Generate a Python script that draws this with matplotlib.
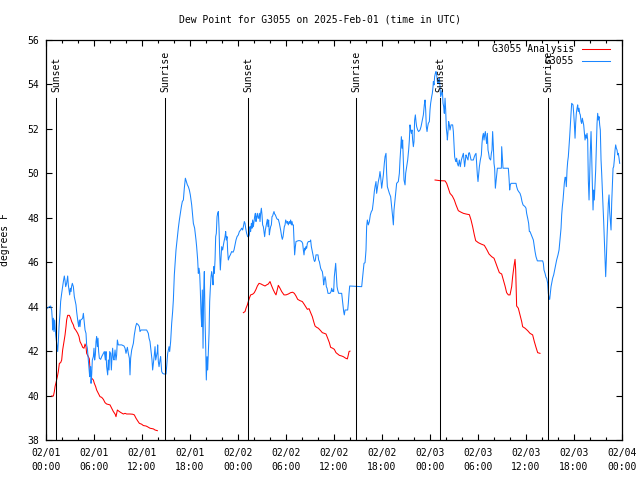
from datetime import datetime, timedelta

import matplotlib
matplotlib.use("Agg")
import matplotlib.pyplot as plt
import matplotlib.dates as mdates

TITLE = "Dew Point for G3055 on 2025-Feb-01 (time in UTC)"
START = datetime(2025, 2, 1)

# hours after 02/01 00:00 UTC
sunset_hours = [1.27, 25.29, 49.3]
sunrise_hours = [14.9, 38.8, 62.8]

# G3055 Analysis (hour, degF), three runs
analysis_1 = [
    (0.71, 39.98), (0.92, 39.98), (1.04, 40.17), (1.13, 40.40), (1.25, 40.58), (1.42, 40.85),
    (1.54, 41.08), (1.67, 41.45), (1.83, 41.48), (1.96, 41.6), (2.08, 42.05), (2.25, 42.43),
    (2.38, 42.73), (2.5, 43.1), (2.58, 43.4), (2.71, 43.61), (2.92, 43.61), (3.08, 43.48),
    (3.21, 43.33), (3.42, 43.18), (3.54, 43.03), (3.71, 42.95), (3.83, 42.88), (3.96, 42.8),
    (4.13, 42.65), (4.25, 42.43), (4.46, 42.28), (4.58, 42.17), (4.75, 42.13), (4.88, 42.32),
    (5.0, 42.2), (5.08, 41.9), (5.29, 41.75), (5.42, 41.65), (5.5, 41.15), (5.71, 40.78),
    (5.92, 40.7), (6.04, 40.55), (6.21, 40.4), (6.33, 40.25), (6.54, 40.1), (6.75, 39.95),
    (6.96, 39.92), (7.17, 39.83), (7.38, 39.68), (7.58, 39.62), (7.79, 39.6), (8.0, 39.58),
    (8.21, 39.43), (8.42, 39.28), (8.63, 39.17), (8.75, 39.05), (8.92, 39.35), (9.17, 39.28),
    (9.38, 39.23), (9.67, 39.17), (9.88, 39.2), (10.08, 39.17), (10.5, 39.17), (10.83, 39.16),
    (11.04, 39.13), (11.25, 38.98), (11.46, 38.86), (11.67, 38.75), (11.96, 38.71), (12.17, 38.65),
    (12.5, 38.63), (12.67, 38.6), (13.0, 38.53), (13.42, 38.5), (13.63, 38.45), (13.92, 38.42),
]
analysis_2 = [
    (24.67, 43.73), (24.88, 43.78), (25.0, 43.93), (25.17, 44.08), (25.29, 44.23), (25.42, 44.38),
    (25.58, 44.53), (25.83, 44.56), (26.04, 44.63), (26.25, 44.78), (26.42, 44.93), (26.63, 45.05),
    (26.88, 45.02), (27.08, 44.98), (27.38, 44.93), (27.58, 44.98), (27.79, 45.02), (28.0, 45.13),
    (28.21, 44.93), (28.42, 44.75), (28.63, 44.6), (28.75, 44.53), (28.92, 44.78), (29.04, 44.96),
    (29.25, 44.83), (29.46, 44.68), (29.75, 44.53), (30.0, 44.53), (30.29, 44.57), (30.58, 44.63),
    (30.83, 44.65), (31.04, 44.6), (31.25, 44.48), (31.46, 44.33), (31.75, 44.27), (32.04, 44.23),
    (32.25, 44.12), (32.46, 44.0), (32.67, 43.88), (32.88, 43.91), (33.08, 43.73), (33.29, 43.55),
    (33.5, 43.28), (33.63, 43.13), (33.83, 43.07), (34.04, 43.03), (34.33, 42.92), (34.54, 42.83),
    (34.79, 42.8), (35.0, 42.77), (35.21, 42.58), (35.42, 42.38), (35.58, 42.17), (35.83, 42.13),
    (36.04, 42.08), (36.25, 41.93), (36.46, 41.87), (36.67, 41.81), (36.96, 41.78), (37.17, 41.75),
    (37.46, 41.68), (37.67, 41.65), (37.79, 41.83), (37.88, 41.98), (38.0, 42.0),
]
analysis_3 = [
    (48.63, 49.7), (49.25, 49.67), (49.88, 49.66), (50.08, 49.55), (50.29, 49.33), (50.5, 49.1),
    (50.79, 48.98), (51.04, 48.8), (51.25, 48.58), (51.54, 48.32), (51.83, 48.26), (52.17, 48.2),
    (52.5, 48.17), (52.92, 48.14), (53.13, 47.9), (53.33, 47.6), (53.54, 47.23), (53.71, 46.97),
    (54.04, 46.88), (54.38, 46.82), (54.79, 46.76), (55.08, 46.58), (55.38, 46.37), (55.71, 46.25),
    (56.0, 46.18), (56.21, 45.98), (56.46, 45.73), (56.67, 45.53), (56.96, 45.47), (57.17, 45.2),
    (57.38, 44.93), (57.58, 44.63), (57.79, 44.53), (58.0, 44.53), (58.21, 44.9), (58.33, 45.35),
    (58.5, 45.83), (58.63, 46.13), (58.71, 45.65), (58.83, 44.03), (59.04, 43.93), (59.25, 43.63),
    (59.46, 43.33), (59.58, 43.1), (59.88, 43.03), (60.21, 42.92), (60.5, 42.8), (60.83, 42.73),
    (61.04, 42.43), (61.25, 42.17), (61.46, 41.93), (61.75, 41.9),
]

# G3055 observations (hour, degF)
obs_day1 = [
    (0.0, 43.95), (0.17, 43.93), (0.42, 44.0), (0.58, 44.03), (0.71, 43.85), (0.79, 43.4), (0.83, 42.95),
    (0.92, 43.48), (1.0, 42.88), (1.08, 43.4), (1.21, 42.73), (1.33, 42.35), (1.46, 41.98), (1.54, 42.43),
    (1.63, 43.1), (1.75, 43.7), (1.83, 44.23), (1.96, 44.6), (2.08, 44.9), (2.17, 45.13), (2.29, 45.38),
    (2.38, 45.17), (2.46, 44.9), (2.58, 45.05), (2.71, 45.38), (2.79, 44.98), (2.88, 44.75), (2.96, 44.53),
    (3.04, 44.83), (3.13, 44.68), (3.21, 44.93), (3.29, 45.05), (3.42, 44.9), (3.54, 44.45), (3.67, 44.23),
    (3.75, 44.08), (3.83, 43.78), (3.96, 43.4), (4.08, 43.1), (4.17, 43.4), (4.25, 43.1), (4.33, 43.4),
    (4.46, 43.43), (4.58, 43.48), (4.67, 43.7), (4.79, 43.25), (4.88, 42.95), (5.0, 42.8), (5.08, 42.28),
    (5.17, 42.13), (5.29, 41.6), (5.38, 41.15), (5.46, 40.85), (5.5, 41.08), (5.58, 41.3), (5.63, 40.55),
    (5.71, 40.93), (5.79, 41.6), (5.92, 41.75), (6.0, 42.13), (6.08, 41.6), (6.17, 41.83), (6.25, 42.43),
    (6.33, 42.65), (6.42, 42.2), (6.5, 42.58), (6.58, 41.98), (6.67, 41.68), (6.83, 41.63), (6.96, 41.75),
    (7.17, 41.9), (7.29, 41.98), (7.42, 41.6), (7.5, 41.98), (7.58, 41.3), (7.71, 40.93), (7.79, 41.6),
    (7.88, 41.15), (7.96, 41.98), (8.08, 41.9), (8.17, 41.15), (8.25, 41.75), (8.33, 42.13), (8.42, 41.68),
    (8.5, 41.6), (8.63, 42.05), (8.75, 41.6), (8.83, 41.83), (8.92, 42.5), (9.04, 42.28), (9.46, 42.28),
    (9.75, 42.23), (9.88, 42.13), (10.0, 41.9), (10.17, 42.17), (10.29, 41.9), (10.42, 41.68), (10.5, 40.93),
    (10.58, 41.68), (10.71, 42.05), (10.92, 42.35), (11.04, 42.73), (11.21, 43.1), (11.33, 43.25),
    (11.54, 43.18), (11.67, 43.1), (11.75, 42.88), (11.88, 42.95), (12.17, 42.95), (12.58, 42.95),
    (12.79, 42.8), (12.88, 42.58), (13.0, 42.43), (13.13, 41.98), (13.25, 41.6), (13.33, 41.15),
    (13.42, 41.45), (13.54, 41.83), (13.63, 42.2), (13.71, 41.6), (13.79, 41.75), (13.92, 41.98),
    (13.96, 42.28), (14.04, 41.53), (14.13, 41.3), (14.25, 41.6), (14.33, 41.75), (14.46, 41.08),
    (14.58, 41.0), (14.75, 40.97), (15.0, 40.97), (15.08, 41.3), (15.21, 41.9), (15.38, 42.2),
    (15.46, 41.98), (15.58, 42.43), (15.71, 43.25), (15.83, 43.78), (15.92, 44.3), (16.04, 45.43),
    (16.17, 46.1), (16.25, 46.55), (16.38, 47.0), (16.54, 47.53), (16.67, 47.9), (16.79, 48.2),
    (16.92, 48.5), (17.04, 48.73), (17.17, 48.8), (17.29, 49.33), (17.42, 49.78), (17.54, 49.63),
    (17.67, 49.48), (17.79, 49.4), (17.92, 49.25), (18.04, 49.03), (18.21, 48.58), (18.33, 48.13),
    (18.42, 47.75), (18.58, 47.53), (18.75, 47.0), (18.83, 46.7), (18.96, 46.1), (19.04, 45.5),
    (19.13, 45.73), (19.21, 45.5), (19.29, 44.75), (19.38, 43.7), (19.46, 43.1), (19.54, 44.75),
    (19.63, 42.13), (19.71, 44.68), (19.79, 45.58), (19.88, 43.4), (19.96, 42.2), (20.04, 40.7),
    (20.13, 41.75), (20.21, 41.15), (20.29, 41.9), (20.38, 42.8), (20.46, 44.23), (20.54, 44.83),
    (20.63, 45.35), (20.71, 45.58), (20.79, 45.35), (20.88, 44.98), (20.96, 45.8), (21.04, 45.5),
    (21.13, 46.1), (21.21, 47.15), (21.29, 47.3), (21.38, 48.05), (21.46, 48.2), (21.54, 48.28),
    (21.63, 47.53), (21.71, 46.4), (21.79, 45.65), (21.88, 46.18), (21.96, 46.7), (22.08, 46.55),
    (22.21, 46.85), (22.29, 47.0), (22.38, 47.15), (22.46, 47.38), (22.54, 47.0), (22.63, 47.15),
    (22.71, 46.48), (22.79, 46.1), (22.92, 46.25), (23.04, 46.33), (23.21, 46.48), (23.38, 46.45),
    (23.5, 46.55), (23.63, 46.78), (23.75, 47.0), (23.88, 47.15),
]
obs_day2 = [
    (24.04, 47.23), (24.17, 47.38), (24.33, 47.45), (24.46, 47.53), (24.58, 47.45), (24.67, 47.6),
    (24.79, 47.83), (24.88, 47.75), (24.96, 47.53), (25.08, 47.3), (25.21, 47.15), (25.33, 47.15),
    (25.42, 47.23), (25.5, 47.6), (25.58, 47.38), (25.67, 47.75), (25.75, 47.53), (25.83, 47.9),
    (25.92, 47.6), (26.0, 47.83), (26.08, 48.05), (26.17, 48.2), (26.25, 47.83), (26.33, 48.05),
    (26.42, 48.2), (26.5, 47.98), (26.58, 47.98), (26.67, 48.2), (26.75, 47.83), (26.83, 48.2),
    (26.92, 48.43), (27.0, 48.13), (27.08, 47.68), (27.17, 47.6), (27.25, 47.38), (27.33, 47.15),
    (27.42, 47.45), (27.5, 47.6), (27.58, 47.75), (27.67, 47.93), (27.75, 47.6), (27.83, 47.9),
    (27.92, 47.23), (28.0, 47.45), (28.08, 47.6), (28.17, 47.68), (28.25, 48.05), (28.33, 48.08),
    (28.42, 48.2), (28.5, 48.28), (28.58, 48.17), (28.67, 48.13), (28.83, 47.98), (28.92, 47.93),
    (29.04, 47.93), (29.17, 47.75), (29.25, 47.6), (29.33, 47.45), (29.46, 47.15), (29.54, 47.03),
    (29.63, 47.15), (29.71, 47.38), (29.79, 47.6), (29.88, 47.68), (29.96, 47.9), (30.04, 47.83),
    (30.13, 47.75), (30.21, 47.83), (30.29, 47.68), (30.42, 47.83), (30.5, 47.75), (30.58, 47.9),
    (30.67, 47.68), (30.75, 47.83), (30.83, 47.68), (30.92, 47.68), (31.0, 47.0), (31.08, 46.33),
    (31.17, 46.7), (31.25, 46.93), (31.54, 46.97), (31.75, 46.97), (31.96, 46.93), (32.08, 46.85),
    (32.17, 46.55), (32.25, 46.33), (32.33, 46.63), (32.42, 46.55), (32.5, 46.7), (32.58, 46.63),
    (32.67, 46.85), (32.79, 46.93), (33.0, 46.93), (33.08, 47.0), (33.17, 46.7), (33.25, 46.55),
    (33.33, 46.4), (33.42, 46.25), (33.5, 46.1), (33.58, 46.03), (33.67, 46.1), (33.75, 46.33),
    (34.0, 46.33), (34.08, 46.1), (34.17, 46.03), (34.25, 45.88), (34.33, 45.73), (34.42, 45.65),
    (34.54, 45.58), (34.63, 45.35), (34.71, 44.98), (34.79, 45.2), (34.88, 45.35), (34.96, 45.2),
    (35.04, 44.9), (35.13, 44.83), (35.25, 44.6), (35.5, 44.6), (35.63, 44.68), (35.71, 44.83),
    (35.79, 44.68), (35.88, 44.75), (35.96, 44.68), (36.04, 45.35), (36.13, 45.65), (36.21, 45.95),
    (36.29, 45.43), (36.38, 44.9), (36.46, 44.75), (36.58, 44.6), (36.96, 44.6), (37.04, 44.33),
    (37.13, 44.0), (37.21, 43.78), (37.29, 43.63), (37.38, 43.85), (37.71, 43.85), (37.79, 44.15),
    (37.88, 44.6), (37.96, 44.93), (39.46, 44.9), (39.58, 45.35), (39.75, 45.95), (39.88, 45.98),
    (40.0, 46.55), (40.08, 47.6), (40.17, 47.9), (40.29, 47.68), (40.42, 47.83), (40.54, 48.13),
    (40.67, 48.28), (40.79, 48.35), (40.92, 48.73), (41.04, 49.18), (41.13, 49.4), (41.25, 49.63),
    (41.33, 49.1), (41.42, 49.33), (41.54, 49.63), (41.67, 49.85), (41.75, 50.08), (41.83, 49.85),
    (41.96, 49.33), (42.04, 49.55), (42.17, 49.93), (42.29, 50.45), (42.38, 50.75), (42.5, 50.9),
    (42.58, 50.0), (42.67, 49.4), (42.79, 49.25), (42.92, 49.1), (43.08, 48.95), (43.21, 48.5),
    (43.33, 48.05), (43.42, 47.68), (43.5, 48.35), (43.63, 48.8), (43.75, 49.25), (43.83, 49.55),
    (44.04, 49.63), (44.17, 50.0), (44.25, 50.6), (44.33, 51.05), (44.42, 51.65), (44.5, 51.13),
    (44.58, 51.5), (44.67, 50.53), (44.75, 49.7), (44.88, 49.48), (44.96, 50.0), (45.08, 50.3),
    (45.21, 50.6), (45.33, 51.05), (45.42, 51.5), (45.5, 52.18), (45.58, 51.95), (45.67, 51.8),
    (45.75, 51.95), (45.83, 51.5), (45.92, 51.2), (46.0, 51.43), (46.08, 52.4), (46.17, 52.63),
    (46.25, 52.33), (46.33, 52.1), (46.46, 51.95), (46.58, 51.88), (46.75, 51.95), (46.88, 52.1),
    (47.0, 52.33), (47.17, 52.63), (47.29, 53.08), (47.38, 53.3), (47.46, 52.85), (47.54, 52.1),
    (47.63, 51.88), (47.71, 52.1), (47.79, 52.25), (47.92, 52.33),
]
obs_day3 = [
    (48.0, 52.85), (48.08, 53.15), (48.21, 53.45), (48.29, 53.6), (48.38, 53.9), (48.42, 54.13),
    (48.5, 53.98), (48.58, 54.35), (48.67, 54.5), (48.75, 54.58), (48.83, 54.43), (48.92, 54.13),
    (49.0, 54.05), (49.08, 54.2), (49.17, 54.28), (49.25, 53.9), (49.33, 53.45), (49.46, 53.6),
    (49.54, 53.75), (49.63, 53.15), (49.71, 53.0), (49.79, 52.7), (49.88, 53.38), (49.96, 52.85),
    (50.04, 52.03), (50.13, 51.73), (50.17, 51.5), (50.25, 51.88), (50.33, 52.33), (50.42, 52.18),
    (50.5, 51.95), (50.63, 52.18), (50.83, 52.18), (50.92, 51.88), (51.0, 51.35), (51.08, 50.75),
    (51.17, 50.6), (51.25, 50.53), (51.33, 50.68), (51.42, 50.45), (51.54, 50.33), (51.67, 50.6),
    (51.79, 50.3), (51.92, 50.6), (52.04, 50.75), (52.17, 50.9), (52.25, 50.6), (52.33, 50.3),
    (52.42, 50.6), (52.5, 50.83), (52.58, 50.75), (52.75, 50.6), (52.83, 50.9), (52.92, 50.93),
    (53.0, 50.83), (53.13, 50.6), (53.42, 50.6), (53.54, 50.75), (53.63, 50.83), (53.75, 50.9),
    (53.83, 50.45), (53.92, 49.93), (54.0, 49.63), (54.08, 49.93), (54.17, 50.3), (54.29, 50.6),
    (54.42, 50.83), (54.5, 51.35), (54.58, 51.65), (54.67, 51.8), (54.75, 51.5), (54.83, 51.73),
    (54.92, 51.88), (55.0, 51.58), (55.08, 51.35), (55.17, 51.8), (55.25, 51.05), (55.33, 50.9),
    (55.42, 50.68), (55.58, 50.6), (55.67, 50.9), (55.75, 51.05), (55.83, 51.88), (55.92, 51.2),
    (56.0, 50.45), (56.08, 50.23), (56.17, 49.33), (56.25, 49.63), (56.33, 49.93), (56.42, 50.23),
    (56.92, 50.23), (56.96, 51.2), (57.04, 50.75), (57.13, 50.23), (57.79, 50.23), (57.88, 49.78),
    (57.96, 49.25), (58.04, 49.48), (58.13, 49.55), (58.75, 49.55), (58.83, 49.4), (58.96, 49.25),
    (59.08, 49.18), (59.25, 49.1), (59.38, 48.95), (59.5, 48.73), (59.63, 48.58), (59.88, 48.5),
    (60.0, 48.43), (60.08, 48.2), (60.21, 47.98), (60.33, 47.75), (60.42, 47.38), (60.5, 47.38),
    (60.92, 47.0), (61.04, 46.7), (61.13, 46.48), (61.25, 46.25), (61.42, 46.06), (62.08, 46.06),
    (62.17, 45.95), (62.25, 45.65), (62.38, 45.5), (62.5, 45.32), (62.58, 45.28), (62.71, 45.05),
    (62.79, 44.6), (62.88, 44.38), (62.96, 44.33), (63.04, 44.6), (63.13, 44.9), (63.21, 45.05),
    (63.33, 45.28), (63.46, 45.43), (63.58, 45.65), (63.71, 45.88), (63.83, 46.1), (64.0, 46.33),
    (64.13, 46.55), (64.21, 46.85), (64.29, 47.15), (64.38, 47.53), (64.46, 48.13), (64.54, 48.5),
    (64.63, 48.8), (64.71, 49.18), (64.79, 49.55), (64.88, 49.82), (64.96, 49.82), (65.04, 49.4),
    (65.13, 50.15), (65.21, 50.53), (65.29, 50.75), (65.38, 51.2), (65.46, 51.65), (65.54, 52.18),
    (65.63, 52.7), (65.71, 53.15), (65.88, 53.08), (65.96, 52.7), (66.04, 52.25), (66.13, 51.58),
    (66.21, 52.25), (66.29, 52.7), (66.38, 52.93), (66.46, 53.08), (66.54, 52.78), (66.63, 52.93),
    (66.71, 52.7), (66.79, 52.63), (66.88, 52.33), (66.96, 52.25), (67.04, 52.48), (67.13, 52.33),
    (67.21, 52.18), (67.29, 51.88), (67.38, 51.5), (67.46, 51.73), (67.54, 51.58), (67.63, 51.8),
    (67.71, 51.5), (67.79, 49.7), (67.88, 48.8), (67.96, 49.85), (68.04, 50.98), (68.13, 51.88),
    (68.21, 50.83), (68.29, 49.55), (68.38, 48.35), (68.46, 49.25), (68.54, 48.8), (68.63, 49.48),
    (68.71, 50.15), (68.79, 51.13), (68.88, 52.25), (68.96, 52.7), (69.04, 52.4), (69.13, 52.55),
    (69.21, 52.18), (69.29, 51.95), (69.38, 50.6), (69.46, 50.0), (69.54, 49.25), (69.63, 48.5),
    (69.71, 47.83), (69.79, 47.0), (69.88, 46.18), (69.96, 45.35), (70.04, 46.1), (70.13, 47.15),
    (70.21, 47.9), (70.29, 48.65), (70.38, 49.03), (70.46, 48.28), (70.54, 47.9), (70.63, 47.45),
    (70.71, 48.65), (70.79, 49.4), (70.88, 50.23), (70.96, 50.3), (71.04, 50.6), (71.13, 51.05),
    (71.21, 51.28), (71.29, 51.13), (71.38, 51.05), (71.46, 50.83), (71.54, 50.9), (71.63, 50.68),
    (71.71, 50.45),
]

RED = "#ff0000"
BLUE = "#1a86ff"
FONT = "DejaVu Sans Mono"
FS = 7
LW = 0.75


def to_time(hours):
    return [START + timedelta(hours=h) for h in hours]


def split(pairs):
    return to_time([p[0] for p in pairs]), [p[1] for p in pairs]


plt.rcParams["font.family"] = FONT
plt.rcParams["font.size"] = FS

fig = plt.figure(figsize=(6.4, 4.8), dpi=100)
ax = fig.add_axes([46 / 640, 40 / 480, 576 / 640, 400 / 480])

# analysis runs
for i, run in enumerate([analysis_1, analysis_2, analysis_3]):
    t, v = split(run)
    ax.plot(t, v, color=RED, lw=LW, label="G3055 Analysis" if i == 0 else None)

# observations
t, v = split(obs_day1 + obs_day2 + obs_day3)
ax.plot(t, v, color=BLUE, lw=LW, label="G3055")

# sunrise / sunset markers
for name, hours in [("Sunset", sunset_hours), ("Sunrise", sunrise_hours)]:
    for t in to_time(hours):
        ax.plot([t, t], [38, 53.4], color="black", lw=LW)
        ax.text(t, 53.65, name, rotation=90, ha="center", va="bottom", fontsize=FS)

ax.set_xlim(START, START + timedelta(hours=72))
ax.set_ylim(38, 56)
ax.set_yticks(range(38, 57, 2))

ax.xaxis.set_major_locator(mdates.HourLocator(byhour=range(0, 24, 6)))
ax.xaxis.set_minor_locator(mdates.HourLocator(byhour=range(0, 24, 2)))
ax.xaxis.set_major_formatter(mdates.DateFormatter("%m/%d\n%H:%M"))

ax.tick_params(which="both", direction="in", top=True, right=True, width=0.8)
ax.tick_params(which="major", length=4)
ax.tick_params(which="minor", length=2.5)
ax.tick_params(axis="x", pad=6, labelsize=FS)
ax.tick_params(axis="y", pad=5, labelsize=FS)
for lab in ax.get_xticklabels():
    lab.set_linespacing(1.5)
for s in ax.spines.values():
    s.set_linewidth(0.9)

ax.set_ylabel("degrees F", fontsize=FS)
ax.yaxis.set_label_coords(-36 / 576, 0.5)
fig.text(0.5, 1 - 20 / 480, TITLE, ha="center", va="center", fontsize=FS)

ax.legend(loc="upper right", frameon=False, markerfirst=False, fontsize=FS,
          handlelength=2.9, handletextpad=0.8, labelspacing=0.25,
          borderaxespad=0, borderpad=0,
          bbox_to_anchor=(1 - 12 / 576, 1 - 4 / 400))

fig.savefig("out.png", dpi=100)
